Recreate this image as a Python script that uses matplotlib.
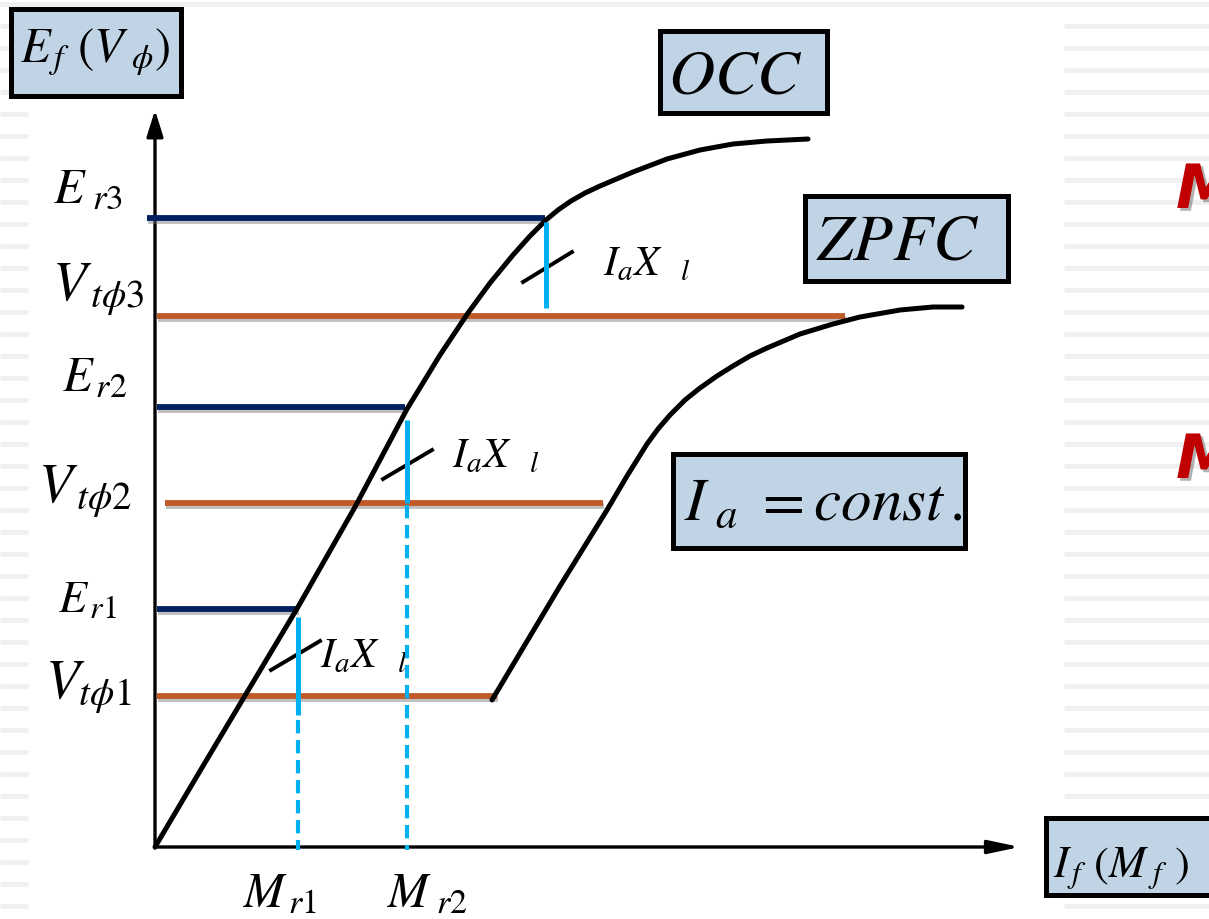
import numpy as np
import matplotlib
matplotlib.use("Agg")
import matplotlib.pyplot as plt
from matplotlib.patches import Rectangle, FancyArrowPatch
import matplotlib.patheffects as pe

plt.rcParams['mathtext.fontset'] = 'stix'
plt.rcParams['font.family'] = 'STIXGeneral'

# open circuit characteristic (field current vs EMF)
occ_if = [0.00, 0.45, 0.85, 1.43, 2.00, 2.52, 2.85, 3.13, 3.35, 3.58, 3.75, 3.91,
          4.03, 4.16, 4.30, 4.45, 4.78, 5.12, 5.45, 5.78, 6.12, 6.53]
occ_e = [0.00, 0.76, 1.43, 2.40, 3.40, 4.38, 4.92, 5.34, 5.64, 5.92, 6.11, 6.27,
         6.37, 6.46, 6.54, 6.61, 6.75, 6.88, 6.97, 7.03, 7.06, 7.08]

# zero power factor characteristic
zpf_if = [3.37, 3.65, 4.05, 4.52, 4.72, 4.92, 5.03, 5.15, 5.30, 5.45, 5.62, 5.78,
          5.95, 6.12, 6.45, 6.78, 7.05, 7.45, 7.78, 8.07]
zpf_v = [1.47, 1.94, 2.61, 3.37, 3.71, 4.03, 4.18, 4.32, 4.47, 4.59, 4.71, 4.81,
         4.91, 4.99, 5.13, 5.23, 5.30, 5.37, 5.40, 5.40]

# air gap EMF levels and terminal voltage levels
er_lvl = [2.38, 4.40, 6.29]
er_start = [0.02, 0.02, -0.08]
er_end = [1.43, 2.50, 3.90]
vt_lvl = [1.51, 3.44, 5.31]
vt_start = [0.02, 0.10, 0.02]
vt_end = [3.42, 4.48, 6.90]

# field current at each E_r, and the I_a X_l drop segments
mr = [1.43, 2.52, 3.91]
drop_top = [2.30, 4.27, 6.25]
drop_bot = [1.32, 3.44, 5.39]
dash_top = [1.47, 3.42]

er_labels = [r'$E_{\,r1}$', r'$E_{\,r2}$', r'$E_{\ r3}$']
vt_labels = [r'$V_{t\phi 1}$', r'$V_{\,t\phi 2}$', r'$V_{\,t\phi 3}$']
mr_labels = [r'$M_{\,r1}$', r'$M_{\ r2}$']

W, H = 1209, 919
fig = plt.figure(figsize=(W / 100, H / 100), dpi=100)
fig.patch.set_facecolor('white')

# decoration layer in pixel coordinates
deco = fig.add_axes([0, 0, 1, 1], zorder=0)
deco.set_xlim(0, W)
deco.set_ylim(H, 0)
deco.axis('off')

stripe_y = np.arange(3.5, H, 22)
deco.hlines(stripe_y[0], 0, W, color='#F0F0F0', lw=3.5)
deco.hlines(stripe_y, 0, 28, color='#F0F0F0', lw=3.5)
deco.hlines(stripe_y, 1064, W, color='#F0F0F0', lw=3.5)

# main diagram layer in data units
ax = fig.add_axes([0, 0, 1, 1], zorder=1)
ax.set_xlim(-1.55, (W - 155) / 100)
ax.set_ylim((847 - H) / 100, 8.47)
ax.axis('off')
ax.patch.set_alpha(0)

# axes with arrows
ax.add_patch(FancyArrowPatch((0, -0.01), (0, 7.37), arrowstyle='-|>,head_length=16,head_width=5',
                             mutation_scale=1, lw=2.4, color='black', shrinkA=0, shrinkB=0))
ax.add_patch(FancyArrowPatch((0, 0), (8.65, 0), arrowstyle='-|>,head_length=19,head_width=4',
                             mutation_scale=1, lw=2.4, color='black', shrinkA=0, shrinkB=0))

ax.plot(occ_if, occ_e, color='black', lw=3.6, solid_capstyle='round',
        solid_joinstyle='round', zorder=3)
ax.plot(zpf_if, zpf_v, color='black', lw=3.6, solid_capstyle='round',
        solid_joinstyle='round', zorder=3)

shadow = [pe.SimpleLineShadow(offset=(0.5, -2.5), shadow_color='0.45', alpha=0.45), pe.Normal()]
for y, x0, x1 in zip(er_lvl, er_start, er_end):
    ax.plot([x0, x1], [y, y], color='#002060', lw=4.2, solid_capstyle='butt',
            path_effects=shadow, zorder=2)
for y, x0, x1 in zip(vt_lvl, vt_start, vt_end):
    ax.plot([x0, x1], [y, y], color='#C05A28', lw=4.2, solid_capstyle='butt',
            path_effects=shadow, zorder=2)

for x, y0, y1 in zip(mr, drop_top, drop_bot):
    ax.plot([x, x], [y0, y1], color='#00B0F0', lw=3.6, solid_capstyle='butt', zorder=4)
for x, y0 in zip(mr, dash_top):
    ax.plot([x, x], [y0, -0.03], color='#00B0F0', lw=3.0, dashes=(3.2, 1.6), zorder=4)

# labels on the axes
for txt, (x, y, fs) in zip(er_labels, [(58, 612, 33), (62, 391, 35), (53, 202, 36)]):
    deco.text(x, y, txt, fontsize=fs, va='baseline', ha='left')
for txt, (x, y, fs) in zip(vt_labels, [(45, 698, 40), (38, 503, 40), (52, 300, 40)]):
    deco.text(x, y, txt, fontsize=fs, va='baseline', ha='left')
for txt, (x, y) in zip(mr_labels, [(243, 907), (387, 907)]):
    deco.text(x, y, txt, fontsize=35, va='baseline', ha='left')

# I_a X_l pointers
for (x0, y0, x1, y1), (tx, ty) in zip([(271, 670, 320, 641), (383, 479, 432, 450), (523, 282, 572, 252)],
                                       [(320, 667), (452, 467), (603, 275)]):
    deco.plot([x0, x1], [y0, y1], color='black', lw=2.8, zorder=5)
    deco.text(tx, ty, r'$I_{a}X_{\ \ \ l}$', fontsize=30, va='baseline', ha='left', zorder=6)

# boxed titles
boxes = [((8, 6, 175, 92), r'$E_{\,f}\ (V_{\ \phi})$', (20, 62), 35),
         ((657, 28, 172, 87), r'$OCC$', (668, 93), 46),
         ((802, 193, 208, 90), r'$ZPFC$', (816, 260), 47),
         ((670, 451, 297, 99), r'$I_{\ a}\ =const\,.$', (684, 520), 44),
         ((1043, 815, 200, 82), r'$I_{\,f}\ (M_{\ f}\ )$', (1053, 877), 32)]
for (bx, by, bw, bh), txt, (tx, ty), fs in boxes:
    deco.add_patch(Rectangle((bx + 2.5, by + 2.5), bw - 5, bh - 5, facecolor='#C0D4E6',
                             edgecolor='black', lw=3.6, zorder=3))
    deco.text(tx, ty, txt, fontsize=fs, va='baseline', ha='left', zorder=4)

# slide text cut off at the right edge
for y in [208, 478]:
    deco.text(1176, y, 'M', fontsize=44, fontweight='bold', style='italic', family='DejaVu Sans',
              color='#C00000', va='baseline', ha='left',
              path_effects=[pe.withSimplePatchShadow(offset=(2, -2), shadow_rgbFace='0.4', alpha=0.5)])

fig.savefig('out.png', dpi=100)
